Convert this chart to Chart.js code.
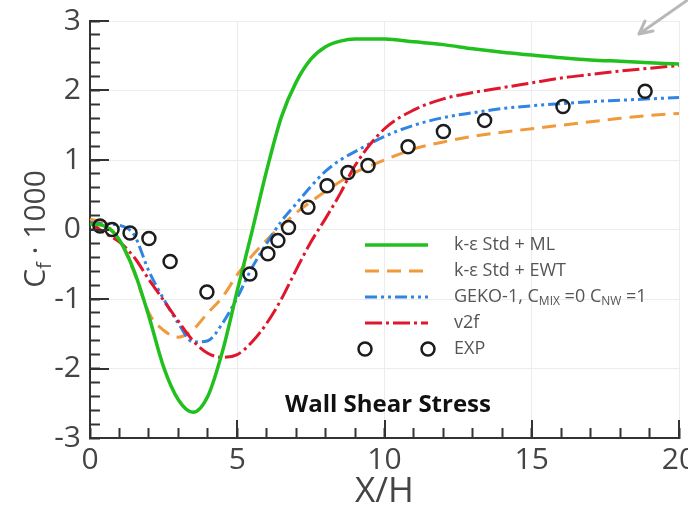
<!DOCTYPE html>
<html>
<head>
<meta charset="utf-8">
<script src="https://cdn.jsdelivr.net/npm/chart.js@4.4.1/dist/chart.umd.min.js"></script>
<style>
  body { margin: 0; background: #fff; }
  #wrap { width: 688px; height: 510px; }
</style>
</head>
<body>
<div id="wrap"><canvas id="cfChart" width="688" height="510"></canvas></div>
<script>
// stations (X/H) where the model curves are sampled
const xModel = [0, 0.5, 1, 1.5, 2, 2.5, 3, 3.5, 4, 4.5, 5, 5.5, 6, 6.5, 7, 7.5, 8, 8.5, 9, 10, 11, 12, 13, 14, 15, 16, 17, 18, 19, 20];

// Cf*1000 for each model
const cfML   = [0.08, 0.05, -0.15, -0.6, -1.25, -1.98, -2.45, -2.63, -2.4, -1.75, -0.88, -0.03, 0.85, 1.62, 2.12, 2.45, 2.63, 2.71, 2.74, 2.74, 2.70, 2.66, 2.60, 2.55, 2.51, 2.47, 2.44, 2.42, 2.40, 2.38];
const cfEWT  = [0.15, 0.08, -0.15, -0.62, -1.2, -1.45, -1.55, -1.44, -1.2, -0.97, -0.65, -0.38, -0.15, 0.05, 0.24, 0.4, 0.55, 0.69, 0.82, 1.0, 1.16, 1.26, 1.34, 1.4, 1.45, 1.5, 1.55, 1.6, 1.64, 1.67];
const cfGEKO = [0.1, 0.08, 0.06, -0.08, -0.6, -1.0, -1.35, -1.62, -1.6, -1.35, -0.98, -0.55, -0.2, 0.12, 0.37, 0.62, 0.84, 1.0, 1.12, 1.34, 1.5, 1.61, 1.68, 1.74, 1.78, 1.81, 1.84, 1.86, 1.88, 1.9];
const cfV2F  = [0.1, -0.05, -0.18, -0.4, -0.72, -1.02, -1.32, -1.6, -1.78, -1.84, -1.8, -1.62, -1.35, -1.0, -0.58, -0.18, 0.16, 0.52, 0.92, 1.45, 1.72, 1.88, 1.97, 2.04, 2.11, 2.18, 2.23, 2.28, 2.32, 2.36];

// measurements
const expX = [0.34, 0.75, 1.36, 2.0, 2.72, 3.97, 5.43, 6.04, 6.38, 6.74, 7.4, 8.05, 8.76, 9.44, 10.8, 12.0, 13.4, 16.06, 18.85];
const expY = [0.05, 0.0, -0.05, -0.13, -0.46, -0.9, -0.64, -0.35, -0.16, 0.03, 0.32, 0.63, 0.82, 0.92, 1.19, 1.41, 1.57, 1.77, 1.99];

const xLabels = [0, 5, 10, 15, 20];
const yLabels = [-3, -2, -1, 0, 1, 2, 3];
const xMinorStep = 1;
const yMinorStep = 0.2;

const FONT = '"Open Sans", "DejaVu Sans", sans-serif';
const TICK_IN = 10; // tick marks point into the plot

function pts(xv, yv) {
  return xv.map((x, i) => ({ x: x, y: yv[i] }));
}

function curve(label, yv, color, dash, width, order) {
  return {
    label: label,
    data: pts(xModel, yv),
    borderColor: color,
    borderWidth: width,
    borderDash: dash,
    pointRadius: 0,
    cubicInterpolationMode: 'monotone',
    fill: false,
    order: order
  };
}

const datasets = [
  curve('k-ε Std + ML', cfML, '#22c01f', [], 3.5, 1),
  curve('k-ε Std + EWT', cfEWT, '#f09a3c', [14, 8], 3, 4),
  curve('GEKO-1, C_{MIX} =0 C_{NW} =1', cfGEKO, '#2f84e4', [12, 4, 3, 4, 3, 4], 3, 3),
  curve('v2f', cfV2F, '#e0162c', [17, 4, 3, 4], 3, 2),
  {
    label: 'EXP',
    data: pts(expX, expY),
    showLine: false,
    pointRadius: 6.5,
    pointBorderWidth: 2.5,
    pointBorderColor: '#1c1c1c',
    pointBackgroundColor: 'rgba(0,0,0,0)',
    order: 0
  }
];

// text with _{sub} parts, left aligned at (x, y)
function richWidth(ctx, text, size, subSize) {
  let w = 0;
  text.split(/(_\{[^}]*\})/).forEach(part => {
    if (!part) return;
    const sub = part.startsWith('_{');
    ctx.font = (sub ? subSize : size) + 'px ' + FONT;
    w += ctx.measureText(sub ? part.slice(2, -1) : part).width;
  });
  return w;
}

function richText(ctx, text, x, y, size, subSize, subDrop) {
  text.split(/(_\{[^}]*\})/).forEach(part => {
    if (!part) return;
    const sub = part.startsWith('_{');
    const s = sub ? part.slice(2, -1) : part;
    ctx.font = (sub ? subSize : size) + 'px ' + FONT;
    ctx.fillText(s, x, sub ? y + subDrop : y);
    x += ctx.measureText(s).width;
  });
}

// longer marks at the labelled ticks
const majorTicks = {
  id: 'majorTicks',
  afterDraw(chart) {
    const ctx = chart.ctx;
    const sx = chart.scales.x, sy = chart.scales.y;
    const area = chart.chartArea;
    ctx.save();
    ctx.fillStyle = '#333';
    xLabels.forEach(v => {
      const px = Math.round(sx.getPixelForValue(v));
      ctx.fillRect(px - 1, area.bottom - 18, 2, 18);
    });
    yLabels.forEach(v => {
      const py = Math.round(sy.getPixelForValue(v));
      ctx.fillRect(area.left, py - 1, 19, 2);
    });
    ctx.restore();
  }
};

const decor = {
  id: 'decor',
  afterDraw(chart) {
    const ctx = chart.ctx;
    ctx.save();

    // y axis title, rotated
    ctx.fillStyle = '#444';
    ctx.textBaseline = 'alphabetic';
    const yTitle = 'C_{f} · 1000';
    ctx.translate(35, 229);
    ctx.rotate(-Math.PI / 2);
    const tw = richWidth(ctx, yTitle, 30, 20);
    richText(ctx, yTitle, -tw / 2, 10, 30, 20, 6);
    ctx.setTransform(1, 0, 0, 1, 0, 0);

    // legend
    const lx0 = 365, lx1 = 428, tx = 454;
    chart.data.datasets.forEach((ds, i) => {
      const y = 245 + i * 26;
      if (ds.showLine === false) {
        ctx.strokeStyle = ds.pointBorderColor;
        ctx.lineWidth = ds.pointBorderWidth;
        ctx.setLineDash([]);
        [lx0, lx1].forEach(cx => {
          ctx.beginPath();
          ctx.arc(cx, y, ds.pointRadius, 0, Math.PI * 2);
          ctx.stroke();
        });
      } else {
        ctx.strokeStyle = ds.borderColor;
        ctx.lineWidth = ds.borderWidth;
        ctx.setLineDash(ds.borderDash);
        ctx.beginPath();
        ctx.moveTo(lx0, y);
        ctx.lineTo(lx1, y);
        ctx.stroke();
      }
      ctx.setLineDash([]);
      ctx.fillStyle = '#555';
      ctx.textBaseline = 'middle';
      richText(ctx, ds.label, tx, y, 18, 12, 5);
    });

    // panel caption
    ctx.fillStyle = '#111';
    ctx.textBaseline = 'middle';
    ctx.font = 'bold 24px ' + FONT;
    ctx.fillText('Wall Shear Stress', 285, 405);

    // pointer arrow in the corner
    ctx.strokeStyle = '#b8b8b8';
    ctx.lineWidth = 3;
    ctx.lineCap = 'round';
    ctx.beginPath();
    ctx.moveTo(692, -3);
    ctx.lineTo(639, 34);
    ctx.moveTo(639, 34);
    ctx.lineTo(645, 21);
    ctx.moveTo(639, 34);
    ctx.lineTo(653, 31);
    ctx.stroke();
    ctx.restore();
  }
};

new Chart(document.getElementById('cfChart'), {
  type: 'line',
  data: { datasets: datasets },
  options: {
    responsive: false,
    animation: false,
    layout: { padding: { top: 21, right: 9, left: 0, bottom: 0 } },
    plugins: { legend: { display: false }, tooltip: { enabled: false } },
    scales: {
      x: {
        type: 'linear',
        min: 0,
        max: 20,
        border: { display: true, color: '#333', width: 2 },
        grid: {
          drawTicks: true,
          tickLength: -TICK_IN,
          tickColor: '#333',
          tickWidth: 2,
          color: c => (c.tick && c.tick.value % 5 === 0 && c.tick.value > 0) ? '#ececec' : 'rgba(0,0,0,0)'
        },
        ticks: {
          stepSize: xMinorStep,
          autoSkip: false,
          maxRotation: 0,
          padding: 4 + TICK_IN,
          color: '#444',
          font: { family: FONT, size: 30 },
          callback: v => xLabels.includes(v) ? String(v) : ''
        },
        title: {
          display: true,
          text: 'X/H',
          color: '#444',
          font: { family: FONT, size: 35, lineHeight: 1 },
          padding: { top: 0, bottom: 0 }
        },
        afterFit: s => { s.height = 72; s.paddingLeft = 0; s.paddingRight = 0; }
      },
      y: {
        min: -3,
        max: 3,
        border: { display: true, color: '#333', width: 2 },
        grid: {
          drawTicks: true,
          tickLength: -TICK_IN,
          tickColor: '#333',
          tickWidth: 2,
          color: c => (c.tick && Number.isInteger(c.tick.value) && c.tick.value > -3) ? '#ececec' : 'rgba(0,0,0,0)'
        },
        ticks: {
          stepSize: yMinorStep,
          autoSkip: false,
          padding: 9 + TICK_IN,
          color: '#444',
          font: { family: FONT, size: 30 },
          callback: v => yLabels.includes(v) ? String(v) : ''
        },
        afterFit: s => { s.width = 90; s.paddingTop = 0; s.paddingBottom = 0; }
      }
    }
  },
  plugins: [majorTicks, decor]
});
</script>
</body>
</html>
